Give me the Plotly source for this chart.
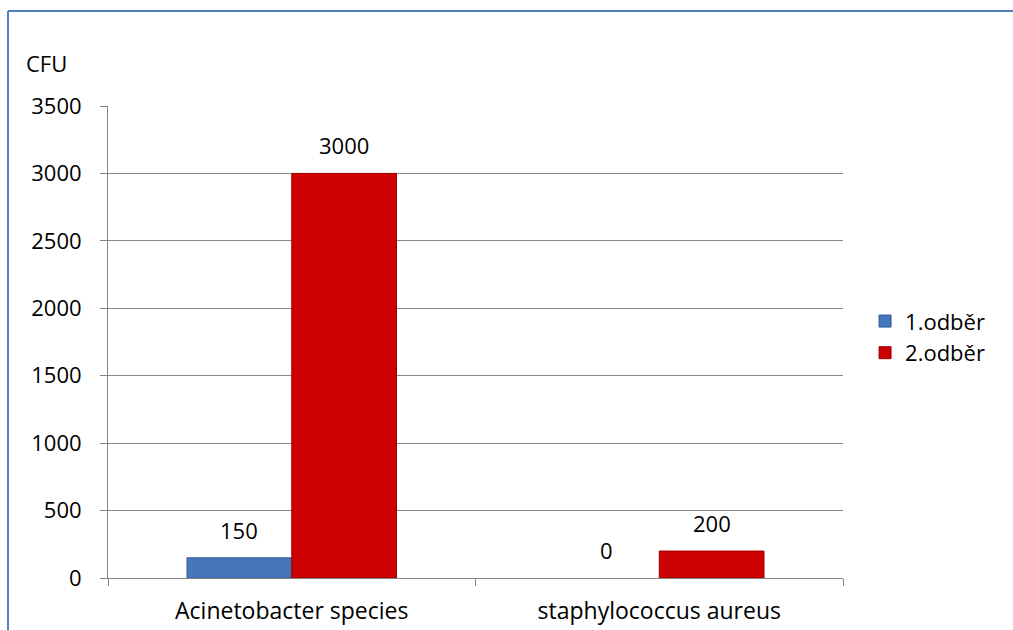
import plotly.graph_objects as go

# Data
categories = ["Acinetobacter species", "staphylococcus aureus"]
odber_1 = [150, 0]
odber_2 = [3000, 200]
series_names = ["1.odběr", "2.odběr"]
y_ticks = [0, 500, 1000, 1500, 2000, 2500, 3000, 3500]

W, H = 1013, 630
ML, MR, MT, MB = 108, 170, 106, 52
plot_w = W - ML - MR
plot_h = H - MT - MB

FONT = "Open Sans"
FS = 22
GRID = "#868686"
BLUE = "#4677BA"
RED = "#CC0000"
BARGAP = 0.43


def edge_widths(vals):
    return [1 if v > 0 else 0 for v in vals]


fig = go.Figure()
fig.add_trace(go.Bar(
    x=categories, y=odber_1, name=series_names[0],
    marker=dict(color=BLUE, line=dict(color="#2F5C95", width=edge_widths(odber_1))),
))
fig.add_trace(go.Bar(
    x=categories, y=odber_2, name=series_names[1],
    marker=dict(color=RED, line=dict(color="#9E0000", width=edge_widths(odber_2))),
))

# value labels above each bar
bar_px = plot_w / len(categories) * (1 - BARGAP) / 2
for vals, shift in ((odber_1, -bar_px / 2), (odber_2, bar_px / 2)):
    for c, v in zip(categories, vals):
        fig.add_annotation(
            x=c, y=v, xref="x", yref="y", text=str(v), showarrow=False,
            xshift=shift, yshift=11, yanchor="bottom",
            font=dict(family=FONT, size=FS, color="black"),
        )

# axis title placed above the value axis
fig.add_annotation(
    x=(24 - ML) / plot_w, y=(H - MB - 63) / plot_h, xref="paper", yref="paper",
    text="CFU", showarrow=False, xanchor="left", yanchor="middle",
    font=dict(family=FONT, size=FS, color="black"),
)

# chart frame
frame_y = (H - MB - 11) / plot_h
frame_x = (8 - ML) / plot_w
fig.add_shape(type="line", xref="paper", yref="paper",
              x0=frame_x, x1=(W + 10 - ML) / plot_w, y0=frame_y, y1=frame_y,
              line=dict(color="#4F81BD", width=2))
fig.add_shape(type="line", xref="paper", yref="paper",
              x0=frame_x, x1=frame_x, y0=-0.2, y1=frame_y,
              line=dict(color="#4F81BD", width=2))

fig.update_layout(
    width=W, height=H,
    margin=dict(l=ML, r=MR, t=MT, b=MB, autoexpand=False),
    paper_bgcolor="white", plot_bgcolor="white",
    barmode="group", bargap=BARGAP, bargroupgap=0,
    font=dict(family=FONT, size=FS, color="black"),
    showlegend=True,
    legend=dict(x=1.03, y=0.51, xanchor="left", yanchor="middle",
                font=dict(family=FONT, size=FS, color="black"),
                itemwidth=30, tracegroupgap=0),
    xaxis=dict(
        showline=True, linecolor=GRID, linewidth=1, automargin=False,
        ticks="outside", tickson="boundaries", ticklen=7, tickcolor=GRID,
        showgrid=False, ticklabelstandoff=12,
        tickfont=dict(family=FONT, size=23, color="black"),
    ),
    yaxis=dict(
        range=[0, 3500], tickvals=y_ticks, automargin=False,
        showline=True, linecolor=GRID, linewidth=1,
        ticks="outside", ticklen=7, tickcolor=GRID,
        showgrid=True, gridcolor=GRID, gridwidth=1, zeroline=False,
        ticklabelstandoff=14,
        tickfont=dict(family=FONT, size=FS, color="black"),
    ),
)

fig.write_html("out.html", config={"displayModeBar": False})
